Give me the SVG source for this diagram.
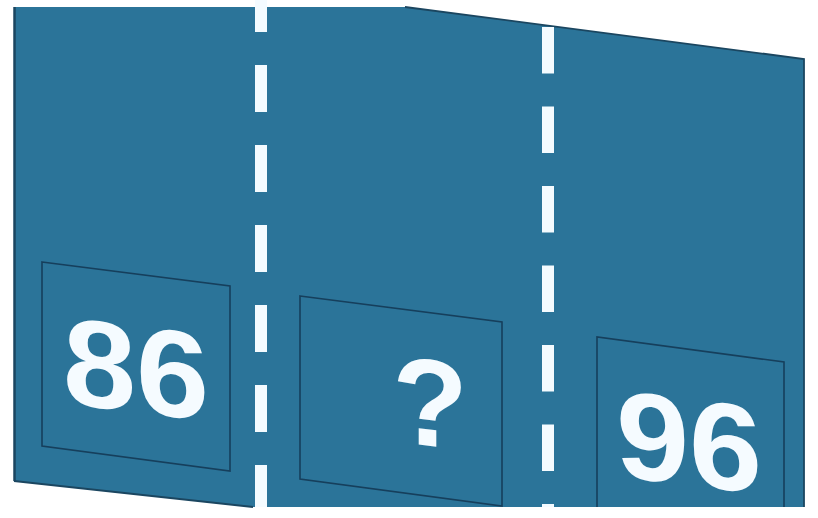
<svg xmlns="http://www.w3.org/2000/svg" width="818" height="518" viewBox="0 0 818 518">
<style>
.num{font-family:"Liberation Sans",Arial,sans-serif;font-weight:bold;font-size:124px;fill:#f5fbff}
.box{fill:none;stroke:#163f5c;stroke-width:1.6}
.dash{stroke:#f4fbff;stroke-width:12;fill:none}
</style>
<rect width="818" height="518" fill="#ffffff"/>
<g id="panel">
<polygon points="14,7 405,7 804,59 804,507 253,507 14,481" fill="#2b7499"/>
<polyline points="405,7 804,59 804,507" fill="none" stroke="#1b4660" stroke-width="1.8"/>
<line x1="14.5" y1="7" x2="14.5" y2="481" stroke="#1b4660" stroke-width="2.5"/>
<line x1="14" y1="481" x2="253" y2="507" stroke="#1b4660" stroke-width="2"/>
</g>
<g id="connectors">
<line class="dash" x1="261" y1="-15" x2="261" y2="507" stroke-dasharray="47 33"/>
<line class="dash" x1="548" y1="27" x2="548" y2="507" stroke-dasharray="46.5 33"/>
</g>
<g id="box86">
<polygon class="box" points="42,262 230,286 230,471 42,446"/>
<text class="num" transform="translate(63,403) skewY(7) scale(1.06,1)">86</text>
</g>
<g id="boxQ">
<polygon class="box" points="300,296 502,322 502,506 300,479"/>
<text class="num" transform="translate(430,446) skewY(7)" text-anchor="middle">?</text>
</g>
<g id="box96">
<polyline class="box" points="597,507 597,337 784,362 784,507"/>
<text class="num" transform="translate(616,476) skewY(7) scale(1.06,1)">96</text>
</g>
</svg>
